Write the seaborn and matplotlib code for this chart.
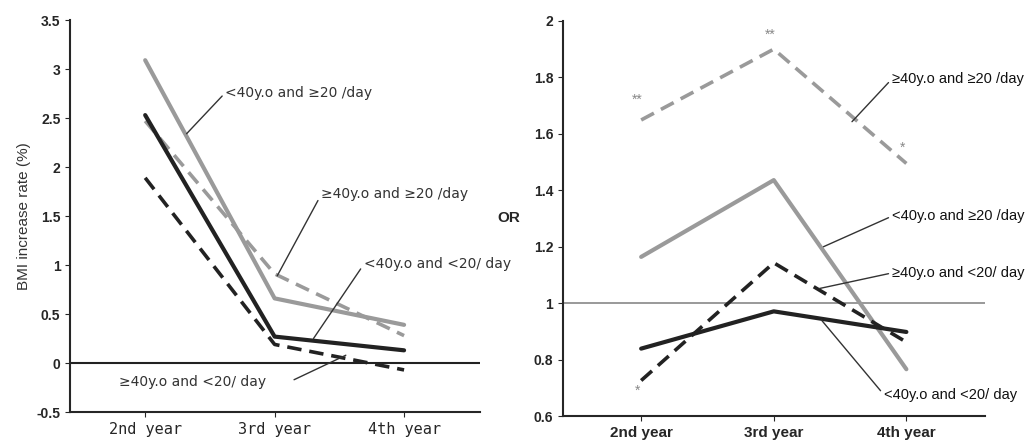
import pandas as pd
import seaborn as sns
import matplotlib.pyplot as plt

years = ["2nd year", "3rd year", "4th year"]
groups = ["<40y.o and \u226520 /day", "\u226540y.o and \u226520 /day",
          "<40y.o and <20/ day", "\u226540y.o and <20/ day"]

# BMI increase rate (%)
bmi_young_heavy = [3.09, 0.66, 0.39]
bmi_old_heavy = [2.47, 0.91, 0.28]
bmi_young_light = [2.53, 0.27, 0.13]
bmi_old_light = [1.89, 0.19, -0.07]

# odds ratios
or_young_heavy = [1.164, 1.436, 0.766]
or_old_heavy = [1.649, 1.90, 1.495]
or_young_light = [0.839, 0.971, 0.898]
or_old_light = [0.726, 1.143, 0.862]

# significance marks
stars_year = ["2nd year", "3rd year", "4th year", "2nd year"]
stars_y = [1.72, 1.95, 1.55, 0.69]
stars_txt = ["**", "**", "*", "*"]

styles = {
    groups[0]: ("#9a9a9a", "-", 3.0),
    groups[1]: ("#9a9a9a", (0, (4, 2.2)), 2.6),
    groups[2]: ("#222222", "-", 3.0),
    groups[3]: ("#222222", (0, (4, 2.2)), 2.6),
}

df = pd.DataFrame({
    "year": years * 4,
    "group": [g for g in groups for _ in years],
    "bmi": bmi_young_heavy + bmi_old_heavy + bmi_young_light + bmi_old_light,
    "or": or_young_heavy + or_old_heavy + or_young_light + or_old_light,
})

sns.set_style("ticks")
plt.rcParams["font.family"] = ["Liberation Sans", "DejaVu Sans"]

fig = plt.figure(figsize=(10.31, 4.45), dpi=100)
ax1 = fig.add_axes([0.068, 0.074, 0.398, 0.881])
ax2 = fig.add_axes([0.546, 0.065, 0.409, 0.888])

for g in groups:
    c, ls, lw = styles[g]
    sub = df[df["group"] == g]
    sns.lineplot(data=sub, x="year", y="bmi", ax=ax1, color=c, linestyle=ls,
                 linewidth=lw, legend=False)
    sns.lineplot(data=sub, x="year", y="or", ax=ax2, color=c, linestyle=ls,
                 linewidth=lw, legend=False)

# left panel
ax1.axhline(0, color="#222222", lw=1.5, zorder=0)
ax1.set_xlim(-0.58, 2.59)
ax1.set_ylim(-0.5, 3.5)
ax1.set_yticks([-0.5, 0, 0.5, 1, 1.5, 2, 2.5, 3, 3.5])
ax1.set_yticklabels(["-0.5", "0", "0.5", "1", "1.5", "2", "2.5", "3", "3.5"],
                    fontweight="bold", fontsize=10)
ax1.set_xticks(range(3))
ax1.set_xticklabels(years, fontsize=11, family="DejaVu Sans Mono")
ax1.set_xlabel("")
ax1.set_ylabel("BMI increase rate (%)", fontsize=11, color="#333333")
sns.despine(ax=ax1)
ax1.spines["left"].set_linewidth(1.5)
ax1.spines["bottom"].set_linewidth(1.5)

lbl1 = dict(fontsize=10, color="#333333", family="DejaVu Sans")
arr = dict(arrowstyle="-", color="#333333", lw=1, shrinkA=0, shrinkB=0)
ax1.annotate(groups[0], xy=(0.32, 2.34), xytext=(0.62, 2.76), va="center",
             arrowprops=dict(arr, relpos=(0, 0.5)), **lbl1)
ax1.annotate(groups[1], xy=(1.02, 0.89), xytext=(1.36, 1.72), va="center",
             arrowprops=dict(arr, relpos=(0, 0.5)), **lbl1)
ax1.annotate(groups[2], xy=(1.30, 0.25), xytext=(1.69, 1.01), va="center",
             arrowprops=dict(arr, relpos=(0, 0.5)), **lbl1)
ax1.annotate("", xy=(1.55, 0.08), xytext=(1.15, -0.17), arrowprops=arr)
ax1.text(-0.2, -0.195, groups[3], va="center", **lbl1)

# right panel
ax2.axhline(1.0, color="#888888", lw=1.2, zorder=0)
ax2.set_xlim(-0.59, 2.59)
ax2.set_ylim(0.6, 2.0)
ax2.set_yticks([0.6, 0.8, 1.0, 1.2, 1.4, 1.6, 1.8, 2.0])
ax2.set_yticklabels(["0.6", "0.8", "1", "1.2", "1.4", "1.6", "1.8", "2"],
                    fontweight="bold", fontsize=10)
ax2.set_xticks(range(3))
ax2.set_xticklabels(years, fontweight="bold", fontsize=11)
ax2.set_xlabel("")
ax2.set_ylabel("OR", rotation=0, fontweight="bold", fontsize=11, labelpad=18,
               va="center")
sns.despine(ax=ax2)
ax2.spines["left"].set_linewidth(1.5)
ax2.spines["bottom"].set_linewidth(1.5)

lbl2 = dict(fontsize=10.5, color="#111111")
for txt, tip, pos in [
    (groups[1], (1.59, 1.643), (1.89, 1.794)),
    (groups[0], (1.375, 1.20), (1.89, 1.308)),
    (groups[3], (1.345, 1.052), (1.89, 1.107)),
    (groups[2], (1.36, 0.94), (1.83, 0.676)),
]:
    ax2.annotate(txt, xy=tip, xytext=pos, va="center",
                 arrowprops=dict(arr, relpos=(0, 0.5)), **lbl2)

for yr, yv, t in zip(stars_year, stars_y, stars_txt):
    ax2.text(years.index(yr) - 0.03, yv, t, ha="center", va="center",
             fontsize=10, color="#888888")

fig.savefig("out.png", dpi=100)
